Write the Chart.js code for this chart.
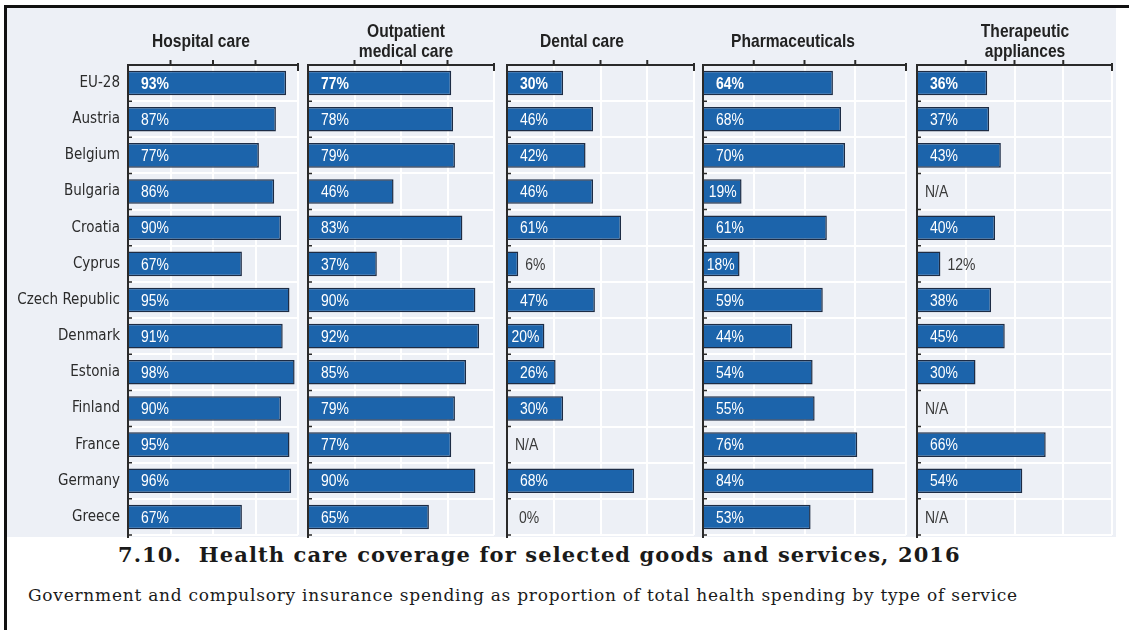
<!DOCTYPE html>
<html lang="en">
<head>
<meta charset="UTF-8">
<title>Health care coverage for selected goods and services, 2016</title>
<script src="https://cdn.jsdelivr.net/npm/chart.js"></script>
<style>
  body { margin: 0; width: 1129px; height: 630px; background: #fff; position: relative; overflow: hidden; }
  #frame { position: absolute; left: 4px; top: 5px; right: 0; bottom: 0; border-top: 3px solid #111; border-left: 3px solid #111; }
  #plotBg { position: absolute; left: 7px; top: 8px; width: 1109px; height: 529px; background: #edf0f6; }
  .panel { position: absolute; top: 0; }
  .ptitle { position: absolute; transform: translateX(-50%) scaleX(0.82); font: bold 19px 'Liberation Sans', Arial, sans-serif; color: #222; text-align: center; line-height: 20px; white-space: nowrap; }
  #caption { position: absolute; left: 118px; top: 545px; font: bold 21px 'DejaVu Serif', serif; letter-spacing: 1.1px; line-height: 20px; color: #1a1a1a; white-space: nowrap; }
  #subcaption { position: absolute; left: 28px; top: 587px; font: 17px 'DejaVu Serif', serif; letter-spacing: 0.75px; line-height: 16px; color: #1a1a1a; white-space: nowrap; }
</style>
</head>
<body>
<div id="plotBg"></div>
<div id="frame"></div>
<div id="panels"></div>
<div id="caption">7.10.&nbsp; Health care coverage for selected goods and services, 2016</div>
<div id="subcaption">Government and compulsory insurance spending as proportion of total health spending by type of service</div>

<script>
const categories = ['EU-28', 'Austria', 'Belgium', 'Bulgaria', 'Croatia', 'Cyprus', 'Czech Republic',
  'Denmark', 'Estonia', 'Finland', 'France', 'Germany', 'Greece'];

// share of spending covered, % (null = not available)
const hospitalCare   = [93, 87, 77, 86, 90, 67, 95, 91, 98, 90, 95, 96, 67];
const outpatientCare = [77, 78, 79, 46, 83, 37, 90, 92, 85, 79, 77, 90, 65];
const dentalCare     = [30, 46, 42, 46, 61, 6, 47, 20, 26, 30, null, 68, 0];
const pharmaceuticals = [64, 68, 70, 19, 61, 18, 59, 44, 54, 55, 76, 84, 53];
const therapeutic    = [36, 37, 43, null, 40, 12, 38, 45, 30, null, 66, 54, null];

const panelTitles = [['Hospital care'], ['Outpatient', 'medical care'], ['Dental care'],
  ['Pharmaceuticals'], ['Therapeutic', 'appliances']];
const panelSeries = [hospitalCare, outpatientCare, dentalCare, pharmaceuticals, therapeutic];

// plot area of each panel (px) and where its heading is centred
const panelBox = [
  { left: 128, right: 298, titleX: 201 },
  { left: 308, right: 494, titleX: 406 },
  { left: 507, right: 694, titleX: 582 },
  { left: 703, right: 906, titleX: 793 },
  { left: 917, right: 1112, titleX: 1025 }
];
const plotTop = 65, plotBottom = 535;

const labelFont = "'Liberation Sans', Arial, sans-serif";
const squeeze = 0.82;   // narrow the label glyphs horizontally
const barBlue = '#1c64ab';
const barEdge = '#1d2c45';
const axisInk = '#2a2a2a';

// dark top/left axis lines with their small tick marks
const panelAxes = {
  id: 'panelAxes',
  afterDatasetsDraw(chart) {
    const { ctx, chartArea: { left, right, top, bottom }, scales: { x, y } } = chart;
    ctx.save();
    ctx.strokeStyle = axisInk;
    ctx.lineWidth = 2;
    ctx.beginPath();
    ctx.moveTo(left - 1, top);
    ctx.lineTo(right + 1, top);
    ctx.moveTo(left, top - 1);
    ctx.lineTo(left, bottom + 3);
    x.ticks.forEach(t => {
      if (t.value > x.min && t.value < x.max) {
        const px = x.getPixelForValue(t.value);
        ctx.moveTo(px, top);
        ctx.lineTo(px, top - 5);
      }
    });
    const rx = x.getPixelForValue(x.max);
    ctx.moveTo(rx, top - 2);
    ctx.lineTo(rx, top + 6);
    ctx.stroke();

    ctx.lineWidth = 1.5;
    ctx.beginPath();
    const n = categories.length;
    for (let i = 0; i < n; i++) {
      const c = y.getPixelForValue(i);
      const next = i < n - 1 ? y.getPixelForValue(i + 1) : c + (c - y.getPixelForValue(i - 1));
      const by = (c + next) / 2;
      ctx.moveTo(left, by);
      ctx.lineTo(left + 4, by);
    }
    ctx.stroke();
    ctx.restore();
  }
};

function narrowText(ctx, text, x, y) {
  ctx.save();
  ctx.translate(x, y);
  ctx.scale(squeeze, 1);
  ctx.fillText(text, 0, 0);
  ctx.restore();
}

// percentage labels: inside the bar in white, beside short bars in grey, N/A for gaps
const valueLabels = {
  id: 'valueLabels',
  afterDraw(chart) {
    const { ctx, scales: { x } } = chart;
    const values = chart.data.datasets[0].data;
    const meta = chart.getDatasetMeta(0);
    const x0 = x.getPixelForValue(0);
    ctx.save();
    ctx.textBaseline = 'middle';
    ctx.textAlign = 'left';
    meta.data.forEach((bar, i) => {
      const v = values[i];
      const cy = bar.y + 1;
      ctx.font = '17px ' + labelFont;
      ctx.fillStyle = '#3a3a3a';
      if (v === null) {
        narrowText(ctx, 'N/A', x0 + 8, cy);
        return;
      }
      const text = v + '%';
      if (v < 15) {
        narrowText(ctx, text, v === 0 ? x0 + 12 : bar.x + 7, cy);
        return;
      }
      if (i === 0) ctx.font = 'bold 17px ' + labelFont;
      const w = ctx.measureText(text).width * squeeze;
      const barW = bar.x - x0;
      ctx.fillStyle = '#ffffff';
      narrowText(ctx, text, x0 + Math.max(1, Math.min(13, barW - w - 5)), cy);
    });
    ctx.restore();
  }
};

const holder = document.getElementById('panels');

panelSeries.forEach((series, p) => {
  const box = panelBox[p];
  const first = p === 0;
  const canvasLeft = first ? 0 : box.left - 6;
  const canvas = document.createElement('canvas');
  canvas.className = 'panel';
  canvas.style.left = canvasLeft + 'px';
  canvas.width = box.right + 6 - canvasLeft;
  canvas.height = plotBottom + 5;
  holder.appendChild(canvas);

  const heading = document.createElement('div');
  heading.className = 'ptitle';
  heading.style.left = box.titleX + 'px';
  heading.style.top = (panelTitles[p].length > 1 ? 21 : 31) + 'px';
  heading.innerHTML = panelTitles[p].join('<br>');
  holder.appendChild(heading);

  new Chart(canvas, {
    type: 'bar',
    data: {
      labels: categories,
      datasets: [{
        data: series,
        backgroundColor: barBlue,
        borderColor: barEdge,
        borderWidth: 1.5,
        barPercentage: 0.68,
        categoryPercentage: 1
      }]
    },
    options: {
      indexAxis: 'y',
      responsive: false,
      animation: false,
      layout: { padding: { top: plotTop, bottom: 5, left: first ? 0 : 6, right: 6 } },
      scales: {
        x: {
          position: 'top',
          min: 0,
          max: 100,
          ticks: { display: false, stepSize: 25 },
          grid: { color: '#ffffff', lineWidth: 2, drawTicks: false },
          border: { display: false },
          afterFit(scale) { scale.height = 0; }
        },
        y: {
          ticks: {
            display: first,
            padding: 8,
            color: '#2b2b2b',
            font: { family: "'DejaVu Sans Condensed', sans-serif", size: 15 }
          },
          grid: { color: '#ffffff', lineWidth: 2, offset: true, drawTicks: false },
          border: { display: false },
          afterFit(scale) {
            scale.width = first ? box.left : 0;
            scale.paddingTop = 0;
            scale.paddingBottom = 0;
          }
        }
      },
      plugins: {
        legend: { display: false },
        tooltip: { enabled: false }
      }
    },
    plugins: [panelAxes, valueLabels]
  });
});
</script>
</body>
</html>
